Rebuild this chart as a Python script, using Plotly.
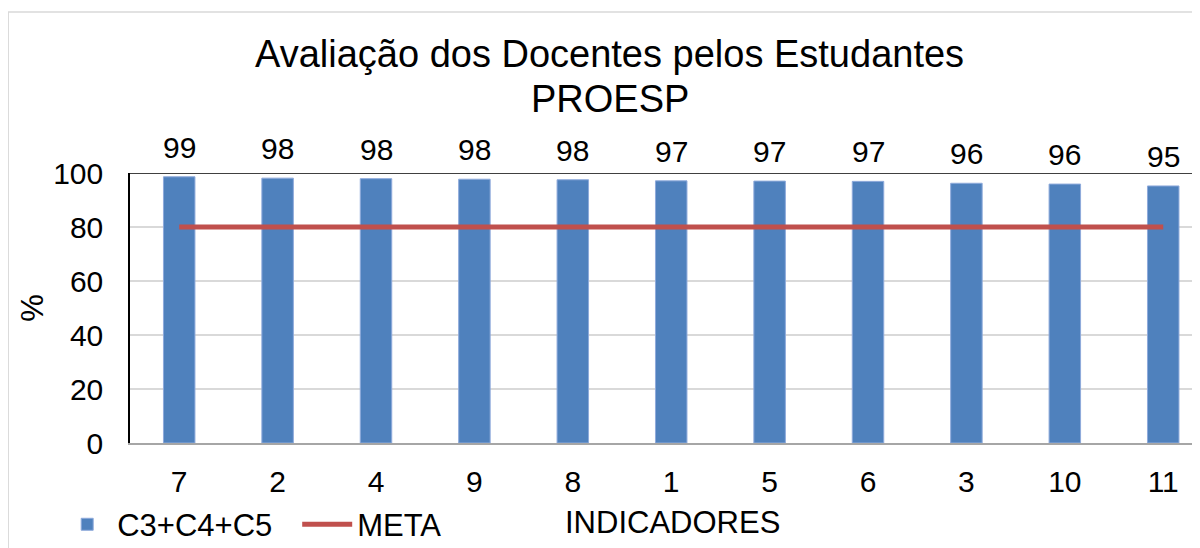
import plotly.graph_objects as go

categories = ["7", "2", "4", "9", "8", "1", "5", "6", "3", "10", "11"]
values = [98.6, 98.1, 97.9, 97.7, 97.5, 97.1, 97.0, 96.9, 96.2, 95.9, 95.2]
labels = ["99", "98", "98", "98", "98", "97", "97", "97", "96", "96", "95"]
meta = [80] * len(categories)
y_ticks = [0, 20, 40, 60, 80, 100]
title_lines = ["Avaliação dos Docentes pelos Estudantes", "PROESP"]
x_title = "INDICADORES"

FONT = "Liberation Sans, Arial, sans-serif"
BLUE = "#4F81BD"
RED = "#C0504D"

fig = go.Figure()
fig.add_trace(go.Bar(
    x=categories, y=values, name="C3+C4+C5",
    marker=dict(color=BLUE, line=dict(color="#8EAADB", width=1)),
    width=0.32,
))
fig.add_trace(go.Scatter(
    x=categories, y=meta, name="META", mode="lines",
    line=dict(color=RED, width=5),
))

for i, (v, t) in enumerate(zip(values, labels)):
    fig.add_annotation(x=i, y=v, text=t, showarrow=False, yanchor="bottom",
                       yshift=11, font=dict(size=30, color="black", family=FONT))

# title (two lines)
for txt, yp in zip(title_lines, [1.441, 1.275]):
    fig.add_annotation(x=0.445, xref="paper", y=yp, yref="paper", text=txt,
                       showarrow=False, xanchor="center", yanchor="middle",
                       font=dict(size=38, color="black", family=FONT))

# x-axis title
fig.add_annotation(x=0.503, xref="paper", y=-0.296, yref="paper", text=x_title,
                   showarrow=False, xanchor="center", yanchor="middle",
                   font=dict(size=31, color="black", family=FONT))

# outer chart border
fig.add_shape(type="rect", xref="paper", yref="paper",
              x0=-0.113, x1=1.2, y0=-0.6, y1=1.596,
              line=dict(color="#D9D9D9", width=1.5), layer="below")
# top border of plot area
fig.add_shape(type="line", xref="paper", yref="y", x0=0, x1=1.02, y0=100, y1=100,
              line=dict(color="black", width=1.5))

fig.update_layout(
    width=1200, height=548,
    margin=dict(l=122, r=0, t=165, b=113, autoexpand=False),
    paper_bgcolor="white", plot_bgcolor="white",
    font=dict(family=FONT, size=30, color="black"),
    showlegend=True,
    legend=dict(orientation="h", xref="container", yref="container",
                x=0.041, xanchor="left", y=0.008, yanchor="bottom",
                font=dict(size=31, family=FONT), bgcolor="rgba(0,0,0,0)",
                itemwidth=50, tracegroupgap=0,
                entrywidth=175, entrywidthmode="pixels"),
    bargap=0.68,
)
fig.update_xaxes(
    type="category", automargin=False,
    range=[-0.5, 10.455], showline=True, linecolor="#A6A6A6", linewidth=1.5,
    showgrid=False, ticks="", tickfont=dict(size=30), ticklabelstandoff=11,
)
fig.update_yaxes(
    automargin=False,
    range=[0, 100], tickvals=y_ticks, showline=True, linecolor="black", linewidth=1.5,
    showgrid=True, gridcolor="#D9D9D9", gridwidth=1.5, zeroline=False,
    tickfont=dict(size=30), ticks="", ticklabelstandoff=19,
    title=dict(text="%", font=dict(size=31), standoff=0),
)

fig.write_html("out.html")
